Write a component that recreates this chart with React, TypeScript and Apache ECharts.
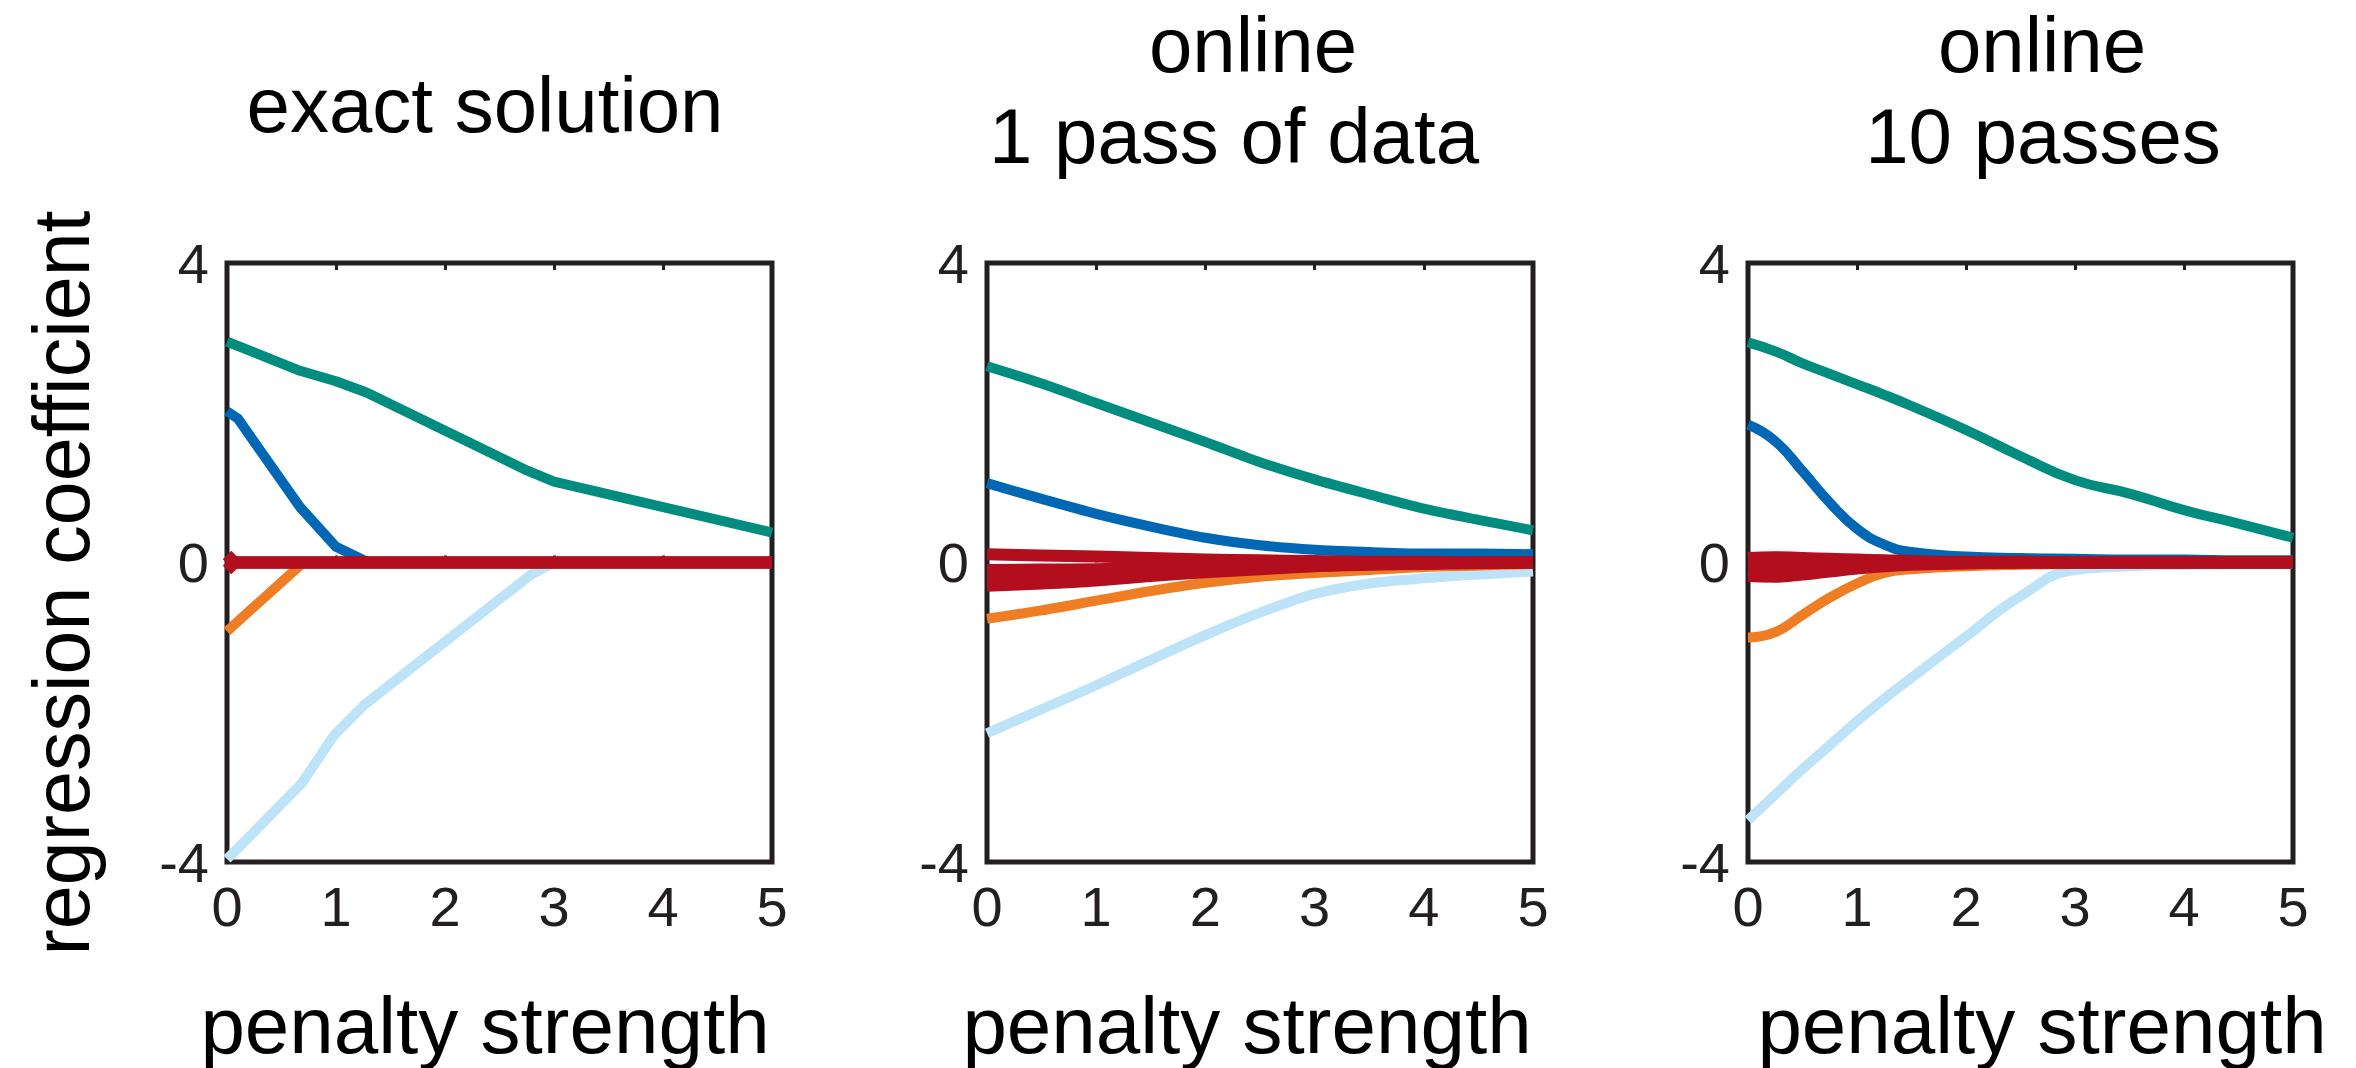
import React, { useEffect, useRef } from "react";
import * as echarts from "echarts";

// ---------- text ----------
const PANEL_TITLES: string[][] = [
  ["exact solution"],
  ["online", "1 pass of data"],
  ["online", "10 passes"],
];
const X_LABEL = "penalty strength";
const Y_LABEL = "regression coefficient";

// ---------- axes ----------
const X_MIN = 0;
const X_MAX = 5;
const X_STEP = 1;
const Y_MIN = -4;
const Y_MAX = 4;
const Y_STEP = 4;

// ---------- colours ----------
const GREEN = "#008C7E";
const BLUE = "#0067B4";
const ORANGE = "#EE7D24";
const LIGHT = "#BCE3F7";
const RED = "#B20E1E";
const INK = "#231F20";

// ---------- panel 1 : exact solution ----------
const P1_GREEN_X = [0, 0.67, 1.0, 1.28, 2.75, 3.0, 5];
const P1_GREEN_Y = [2.95, 2.56, 2.42, 2.27, 1.23, 1.08, 0.4];
const P1_BLUE_X = [0, 0.1, 0.67, 1.0, 1.3, 5];
const P1_BLUE_Y = [2.02, 1.92, 0.74, 0.21, 0, 0];
const P1_ORANGE_X = [0, 0.12, 0.7, 5];
const P1_ORANGE_Y = [-0.92, -0.76, 0, 0];
const P1_LIGHT_X = [0, 0.22, 0.69, 0.98, 1.26, 2.79, 3.0, 5];
const P1_LIGHT_Y = [-3.96, -3.64, -2.94, -2.31, -1.9, -0.16, 0, 0];
const P1_RED_X = [0, 0.07, 5];
const P1_RED_A = [0.1, 0, 0];
const P1_RED_B = [-0.1, 0, 0];
const P1_RED_C = [0, 0, 0];

// ---------- panel 2 : online, 1 pass ----------
const P2_X = [0, 0.5, 1, 1.5, 2, 2.5, 3, 3.5, 4, 4.5, 5];
const P2_GREEN = [2.62, 2.39, 2.13, 1.87, 1.61, 1.34, 1.11, 0.91, 0.72, 0.57, 0.43];
const P2_BLUE = [1.06, 0.85, 0.65, 0.48, 0.33, 0.23, 0.17, 0.14, 0.12, 0.12, 0.11];
const P2_ORANGE = [-0.75, -0.64, -0.51, -0.38, -0.27, -0.19, -0.14, -0.1, -0.06, -0.04, -0.02];
const P2_LIGHT = [-2.28, -1.96, -1.64, -1.3, -0.97, -0.67, -0.42, -0.28, -0.21, -0.16, -0.12];
const P2_RED_A = [0.11, 0.095, 0.08, 0.06, 0.04, 0.03, 0.02, 0.01, 0.01, 0, 0];
const P2_RED_B = [-0.1, -0.095, -0.09, -0.07, -0.05, -0.035, -0.02, -0.015, -0.01, 0, 0];
const P2_RED_C = [-0.21, -0.19, -0.16, -0.12, -0.09, -0.06, -0.04, -0.025, -0.01, 0, 0];
const P2_RED_D = [-0.31, -0.28, -0.24, -0.18, -0.13, -0.09, -0.05, -0.03, -0.02, -0.01, 0];

// ---------- panel 3 : online, 10 passes ----------
const P3_X = [0, 0.25, 0.5, 0.75, 1, 1.25, 1.5, 2, 2.5, 3, 3.5, 4, 4.5, 5];
const P3_GREEN = [2.94, 2.82, 2.66, 2.52, 2.38, 2.24, 2.09, 1.77, 1.42, 1.1, 0.92, 0.7, 0.52, 0.33];
const P3_BLUE = [1.84, 1.62, 1.22, 0.8, 0.45, 0.24, 0.14, 0.08, 0.06, 0.05, 0.04, 0.04, 0.03, 0.03];
const P3_ORANGE = [-1.0, -0.93, -0.7, -0.47, -0.28, -0.14, -0.09, -0.05, -0.03, -0.02, -0.01, 0, 0, 0];
const P3_LIGHT = [-3.44, -3.1, -2.76, -2.44, -2.12, -1.82, -1.54, -0.99, -0.45, -0.1, -0.05, -0.03, -0.02, -0.02];
const P3_RED_A = [0.06, 0.07, 0.06, 0.05, 0.04, 0.03, 0.02, 0.01, 0.01, 0, 0, 0, 0, 0];
const P3_RED_B = [-0.02, -0.02, -0.02, -0.02, -0.01, -0.01, -0.01, 0, 0, 0, 0, 0, 0, 0];
const P3_RED_C = [-0.1, -0.11, -0.09, -0.07, -0.05, -0.03, -0.02, -0.01, 0, 0, 0, 0, 0, 0];
const P3_RED_D = [-0.18, -0.19, -0.16, -0.12, -0.08, -0.05, -0.03, -0.01, 0, 0, 0, 0, 0, 0];

// ---------- layout ----------
const GRIDS = [
  { left: 227, top: 263, width: 545, height: 599 },
  { left: 987, top: 263, width: 546, height: 599 },
  { left: 1748, top: 263, width: 545, height: 599 },
];
const TITLE_CENTERS = [
  [485],
  [1253, 1234],
  [2042, 2043],
];
const XLABEL_CENTERS = [485, 1247, 2042];
const FONT = "'Liberation Sans', Arial, sans-serif";
const TICK_FONT_SIZE = 56;

const zip = (xs: number[], ys: number[]) => xs.map((x, i) => [x, ys[i]]);

export default function App() {
  const ref = useRef<HTMLDivElement>(null);

  useEffect(() => {
    if (!ref.current) return;
    const chart = echarts.init(ref.current, undefined, { renderer: "svg" });

    const panels = [
      {
        smooth: false,
        lines: [
          { c: LIGHT, d: zip(P1_LIGHT_X, P1_LIGHT_Y) },
          { c: ORANGE, d: zip(P1_ORANGE_X, P1_ORANGE_Y) },
          { c: BLUE, d: zip(P1_BLUE_X, P1_BLUE_Y) },
          { c: GREEN, d: zip(P1_GREEN_X, P1_GREEN_Y) },
          { c: RED, d: zip(P1_RED_X, P1_RED_A), red: true },
          { c: RED, d: zip(P1_RED_X, P1_RED_B), red: true },
          { c: RED, d: zip(P1_RED_X, P1_RED_C), red: true },
        ],
      },
      {
        smooth: 0.3,
        lines: [
          { c: LIGHT, d: zip(P2_X, P2_LIGHT) },
          { c: ORANGE, d: zip(P2_X, P2_ORANGE) },
          { c: BLUE, d: zip(P2_X, P2_BLUE) },
          { c: GREEN, d: zip(P2_X, P2_GREEN) },
          { c: RED, d: zip(P2_X, P2_RED_A), red: true },
          { c: RED, d: zip(P2_X, P2_RED_B), red: true },
          { c: RED, d: zip(P2_X, P2_RED_C), red: true },
          { c: RED, d: zip(P2_X, P2_RED_D), red: true },
        ],
      },
      {
        smooth: 0.5,
        lines: [
          { c: LIGHT, d: zip(P3_X, P3_LIGHT) },
          { c: ORANGE, d: zip(P3_X, P3_ORANGE) },
          { c: BLUE, d: zip(P3_X, P3_BLUE) },
          { c: GREEN, d: zip(P3_X, P3_GREEN) },
          { c: RED, d: zip(P3_X, P3_RED_A), red: true },
          { c: RED, d: zip(P3_X, P3_RED_B), red: true },
          { c: RED, d: zip(P3_X, P3_RED_C), red: true },
          { c: RED, d: zip(P3_X, P3_RED_D), red: true },
        ],
      },
    ];

    const grid = GRIDS.map((g) => ({
      ...g,
      show: true,
      borderColor: INK,
      borderWidth: 5,
      backgroundColor: "transparent",
      containLabel: false,
    }));

    const xAxis: any[] = [];
    GRIDS.forEach((_, i) => {
      xAxis.push({
        type: "value",
        gridIndex: i,
        position: "bottom",
        min: X_MIN,
        max: X_MAX,
        interval: X_STEP,
        axisLine: { show: false },
        axisTick: { show: true, inside: true, length: 7, lineStyle: { color: INK, width: 3 } },
        splitLine: { show: false },
        axisLabel: { color: INK, fontSize: TICK_FONT_SIZE, fontFamily: FONT, margin: 16 },
      });
      xAxis.push({
        type: "value",
        gridIndex: i,
        position: "top",
        min: X_MIN,
        max: X_MAX,
        interval: X_STEP,
        axisLine: { show: false },
        axisTick: { show: true, inside: true, length: 7, lineStyle: { color: INK, width: 3 } },
        splitLine: { show: false },
        axisLabel: { show: false },
      });
    });

    const yAxis = GRIDS.map((_, i) => ({
      type: "value",
      gridIndex: i,
      min: Y_MIN,
      max: Y_MAX,
      interval: Y_STEP,
      axisLine: { show: false },
      axisTick: { show: false },
      splitLine: { show: false },
      axisLabel: { color: INK, fontSize: TICK_FONT_SIZE, fontFamily: FONT, margin: 18 },
    }));

    const series: any[] = [];
    panels.forEach((p, i) => {
      p.lines.forEach((l: any) => {
        series.push({
          type: "line",
          xAxisIndex: i * 2,
          yAxisIndex: i,
          data: l.d,
          smooth: p.smooth,
          symbol: "none",
          silent: true,
          lineStyle: { color: l.c, width: l.red ? 12 : 10, cap: "butt", join: "round" },
          z: l.red ? 3 : 2,
        });
      });
    });

    const graphic: any[] = [];
    PANEL_TITLES.forEach((lines, i) => {
      const centersY = lines.length === 1 ? [105] : [45, 136];
      lines.forEach((t, j) => {
        graphic.push({
          type: "text",
          x: TITLE_CENTERS[i][j],
          y: centersY[j],
          style: {
            text: t,
            fill: "#000",
            font: `78px ${FONT}`,
            align: "center",
            verticalAlign: "middle",
          },
        });
      });
    });
    XLABEL_CENTERS.forEach((cx) => {
      graphic.push({
        type: "text",
        x: cx,
        y: 1025,
        style: {
          text: X_LABEL,
          fill: "#000",
          font: `80px ${FONT}`,
          align: "center",
          verticalAlign: "middle",
        },
      });
    });
    graphic.push({
      type: "text",
      x: 61,
      y: 583,
      rotation: Math.PI / 2,
      style: {
        text: Y_LABEL,
        fill: "#000",
        font: `79px ${FONT}`,
        align: "center",
        verticalAlign: "middle",
      },
    });

    chart.setOption({
      animation: false,
      backgroundColor: "#fff",
      grid,
      xAxis,
      yAxis,
      series,
      graphic,
    });

    return () => chart.dispose();
  }, []);

  return (
    <div
      ref={ref}
      style={{ position: "fixed", left: 0, top: 0, width: "2356px", height: "1068px" }}
    />
  );
}
